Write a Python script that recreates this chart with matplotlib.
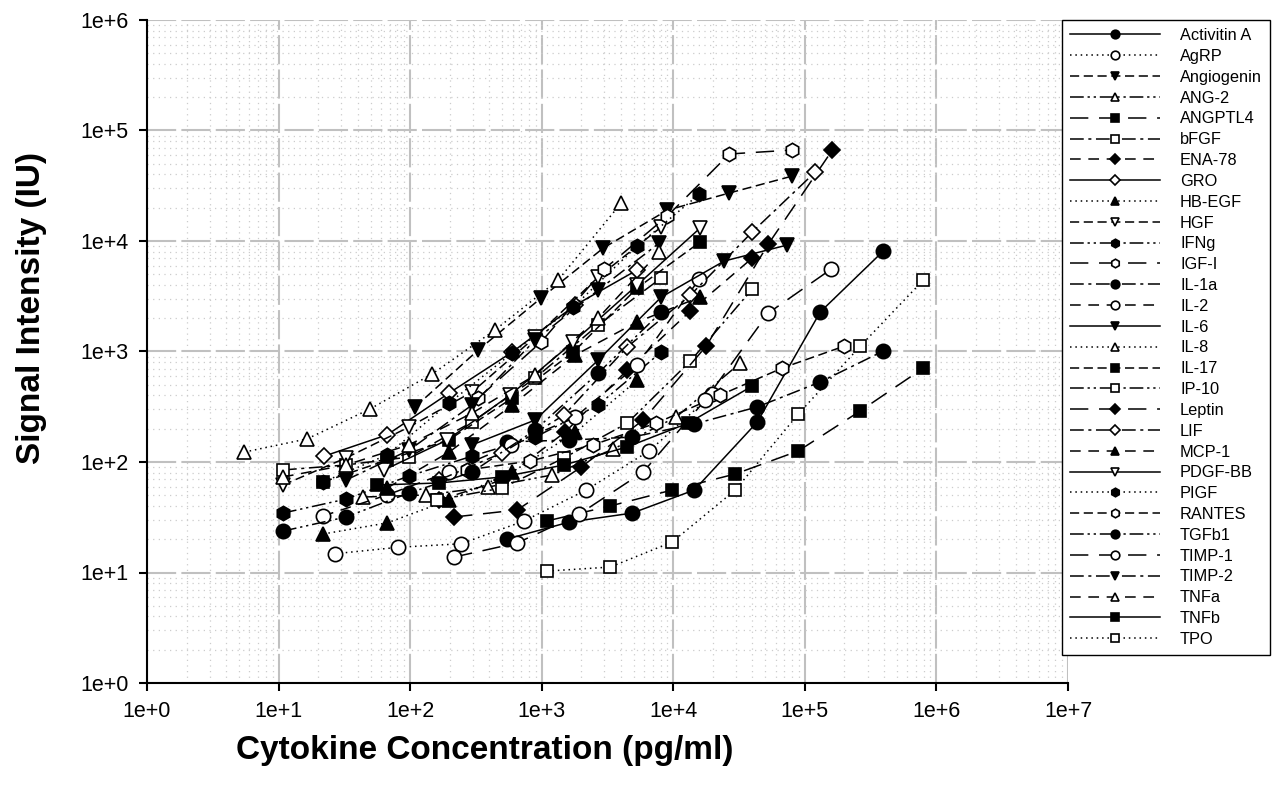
import numpy as np
import matplotlib.pyplot as plt
from matplotlib.ticker import FixedLocator, FuncFormatter, NullFormatter

plt.rcParams["font.family"] = ["Liberation Sans", "DejaVu Sans"]

# concentration (pg/ml) and signal (IU), one pair per cytokine
activitin_x = [547, 1620, 4880, 14450, 43500, 131000, 395000]
activitin_y = [20.1, 28.6, 34.5, 55.8, 230, 2280, 8120]
agrp_x = [26.9, 81, 244, 736, 2180, 6560, 19800]
agrp_y = [14.8, 16.9, 18.2, 29.3, 55.8, 126, 409]
angiogenin_x = [109, 329, 990, 2940, 9000, 26700, 80300]
angiogenin_y = [315, 1030, 3050, 8640, 19000, 27200, 38700]
ang2_x = [43.9, 132, 392, 1200, 3500, 10500, 32300]
ang2_y = [48.2, 50.3, 59.4, 76.3, 131, 255, 787]
angptl4_x = [1100, 3320, 9820, 29600, 89300, 264000, 797000]
angptl4_y = [29.3, 40, 55.8, 77.9, 126, 290, 709]
bfgf_x = [10.8, 32.6, 98, 296, 893, 2690, 8110]
bfgf_y = [84.7, 94, 111, 230, 576, 1740, 4630]
ena78_x = [166, 501, 1510, 4470, 13500, 39900]
ena78_y = [45.3, 68.7, 187, 680, 2330, 7020]
gro_x = [22.2, 66.8, 198, 597, 1800, 5320]
gro_y = [113, 176, 421, 989, 2630, 5470]
hbegf_x = [21.8, 66.8, 198, 597, 1800, 5320]
hbegf_y = [22.3, 28.1, 45.3, 81.2, 185, 550]
hgf_x = [10.8, 32.6, 98, 296, 893, 2690, 8110]
hgf_y = [61.9, 109, 207, 430, 1350, 4720, 13400]
ifng_x = [10.8, 32.6, 98, 296, 893, 2690, 8110]
ifng_y = [34.5, 46.2, 74.7, 113, 168, 328, 990]
igf1_x = [329, 990, 2990, 9000, 26700, 80300]
igf1_y = [379, 1220, 5580, 16800, 61300, 66600]
il1a_x = [547, 1620, 4880, 14450, 43500, 131000, 395000]
il1a_y = [152, 158, 168, 221, 315, 530, 1010]
il2_x = [21.8, 66.8, 196, 587, 1800, 5320, 15800]
il2_y = [32.5, 50.3, 81.2, 143, 255, 755, 4530]
il6_x = [296, 893, 2690, 8110, 24400, 73600]
il6_y = [143, 240, 838, 3110, 6590, 9200]
il8_x = [5.5, 16.5, 49.6, 147, 443, 1335, 4025]
il8_y = [123, 162, 302, 626, 1570, 4440, 22100]
il17_x = [21.8, 66.8, 196, 597, 1740, 5320, 16000]
il17_y = [65.9, 104, 158, 379, 989, 3760, 9790]
ip10_x = [160, 501, 1480, 4470, 13500, 39900]
ip10_y = [45.3, 58.2, 109, 225, 820, 3680]
leptin_x = [216, 651, 2000, 5910, 17800, 52800, 162000]
leptin_y = [31.8, 36.8, 90.1, 240, 1120, 9390, 66600]
lif_x = [166, 501, 1480, 4470, 13500, 39900, 120000]
lif_y = [68.7, 121, 266, 1100, 3240, 12100, 42100]
mcp1_x = [66.8, 198, 597, 1800, 5320, 16000]
mcp1_y = [58.2, 123, 328, 930, 1850, 3110]
pdgfbb_x = [63.4, 191, 576, 1740, 5320, 16000]
pdgfbb_y = [84.7, 158, 404, 1220, 4000, 13100]
pigf_x = [21.8, 66.8, 198, 597, 1740, 5320, 15800]
pigf_y = [65.9, 116, 342, 969, 2530, 9020, 26600]
rantes_x = [271, 818, 2460, 7430, 22800, 67500, 200000]
rantes_y = [84.7, 102, 143, 225, 404, 709, 1120]
tgfb1_x = [10.8, 32.6, 98, 296, 893, 2690, 8110]
tgfb1_y = [23.7, 31.8, 52.4, 81.2, 195, 639, 2280]
timp1_x = [216, 651, 1930, 5910, 17500, 52800, 159000]
timp1_y = [13.8, 18.5, 33.8, 81.2, 364, 2230, 5580]
timp2_x = [32.6, 98, 296, 893, 2690, 7830]
timp2_y = [68.7, 128, 328, 1270, 3600, 9590]
tnfa_x = [10.8, 32.6, 98, 296, 893, 2690, 7830]
tnfa_y = [73.2, 94, 143, 277, 613, 2010, 7950]
tnfb_x = [56.1, 166, 501, 1480, 4470, 13000, 39900]
tnfb_y = [61.9, 64.6, 73.2, 94, 137, 225, 487]
tpo_x = [1100, 3320, 9820, 29600, 89300, 264000, 797000]
tpo_y = [10.3, 11.2, 18.9, 55.8, 272, 1120, 4440]

names = ['Activitin A', 'AgRP', 'Angiogenin', 'ANG-2', 'ANGPTL4', 'bFGF', 'ENA-78',
         'GRO', 'HB-EGF', 'HGF', 'IFNg', 'IGF-I', 'IL-1a', 'IL-2', 'IL-6', 'IL-8',
         'IL-17', 'IP-10', 'Leptin', 'LIF', 'MCP-1', 'PDGF-BB', 'PIGF', 'RANTES',
         'TGFb1', 'TIMP-1', 'TIMP-2', 'TNFa', 'TNFb', 'TPO']
xs = [activitin_x, agrp_x, angiogenin_x, ang2_x, angptl4_x, bfgf_x, ena78_x, gro_x,
      hbegf_x, hgf_x, ifng_x, igf1_x, il1a_x, il2_x, il6_x, il8_x, il17_x, ip10_x,
      leptin_x, lif_x, mcp1_x, pdgfbb_x, pigf_x, rantes_x, tgfb1_x, timp1_x,
      timp2_x, tnfa_x, tnfb_x, tpo_x]
ys = [activitin_y, agrp_y, angiogenin_y, ang2_y, angptl4_y, bfgf_y, ena78_y, gro_y,
      hbegf_y, hgf_y, ifng_y, igf1_y, il1a_y, il2_y, il6_y, il8_y, il17_y, ip10_y,
      leptin_y, lif_y, mcp1_y, pdgfbb_y, pigf_y, rantes_y, tgfb1_y, timp1_y,
      timp2_y, tnfa_y, tnfb_y, tpo_y]

# SigmaPlot style cycles
symbols = ['o', 'o', 'v', '^', 's', 's', 'D', 'D', '^', 'v', 'h', 'h']
lstyles = ['-', (0, (1, 2.5)), (0, (6, 3)), (0, (9, 2.5, 1.5, 2.5, 1.5, 2.5)),
           (0, (12, 7)), (0, (9, 3, 2, 3)), (0, (7, 5))]

fig = plt.figure(figsize=(12.76, 7.94), dpi=100)
ax = fig.add_axes([147/1276., 1-683/794., 921/1276., 663/794.])

for i in range(len(names)):
    mk = symbols[i % 12]
    face = 'black' if i % 2 == 0 else 'white'
    ms = 10.3
    if mk == 'D':
        ms = 8.6
    elif mk == 's':
        ms = 9.2
    ax.plot(xs[i], ys[i], color='black', lw=1.1, ls=lstyles[i % 7],
            marker=mk, markersize=ms, markerfacecolor=face,
            markeredgecolor='black', markeredgewidth=1.2, label=names[i])

ax.set_xscale('log')
ax.set_yscale('log')
ax.set_xlim(1, 1e7)
ax.set_ylim(1, 1e6)

# only decades inside the visible range
xdec = [10.0**k for k in range(0, 8)]
ydec = [10.0**k for k in range(0, 7)]
xminor = [m * 10.0**k for k in range(0, 7) for m in range(2, 10)]
yminor = [m * 10.0**k for k in range(0, 6) for m in range(2, 10)]
fmt = FuncFormatter(lambda v, p: '1e+%d' % int(round(np.log10(v))))
ax.xaxis.set_major_locator(FixedLocator(xdec))
ax.yaxis.set_major_locator(FixedLocator(ydec))
ax.xaxis.set_minor_locator(FixedLocator(xminor))
ax.yaxis.set_minor_locator(FixedLocator(yminor))
ax.xaxis.set_major_formatter(fmt)
ax.yaxis.set_major_formatter(fmt)
ax.xaxis.set_minor_formatter(NullFormatter())
ax.yaxis.set_minor_formatter(NullFormatter())

ax.grid(which='minor', color='#cccccc', lw=0.9, ls=(0, (1, 3.5)))
ax.grid(which='major', color='#c0c0c0', lw=1.5, ls=(0, (14, 2.5)))
ax.set_axisbelow(True)

ax.tick_params(which='major', direction='out', length=6, width=1.5, labelsize=15.5, pad=7)
ax.tick_params(which='minor', length=0)
for s in ['top', 'right']:
    ax.spines[s].set_visible(False)
for s in ['left', 'bottom']:
    ax.spines[s].set_linewidth(1.5)

fig.text(485/1276., 1-750/794., 'Cytokine Concentration (pg/ml)', fontsize=24,
         fontweight='bold', ha='center', va='center')
fig.text(32/1276., 1-308/794., 'Signal Intensity (IU)', fontsize=24,
         fontweight='bold', ha='center', va='center', rotation=90)

leg = fig.legend(loc='upper left', bbox_to_anchor=(1062/1276., 1-20/794.),
                 fontsize=11.8, handlelength=5.5, handletextpad=1.2, labelspacing=0.355,
                 borderpad=0.5, borderaxespad=0, markerscale=0.6, fancybox=False,
                 edgecolor='black', framealpha=1)
leg.get_frame().set_linewidth(1.0)

fig.savefig('out.png', dpi=100)
